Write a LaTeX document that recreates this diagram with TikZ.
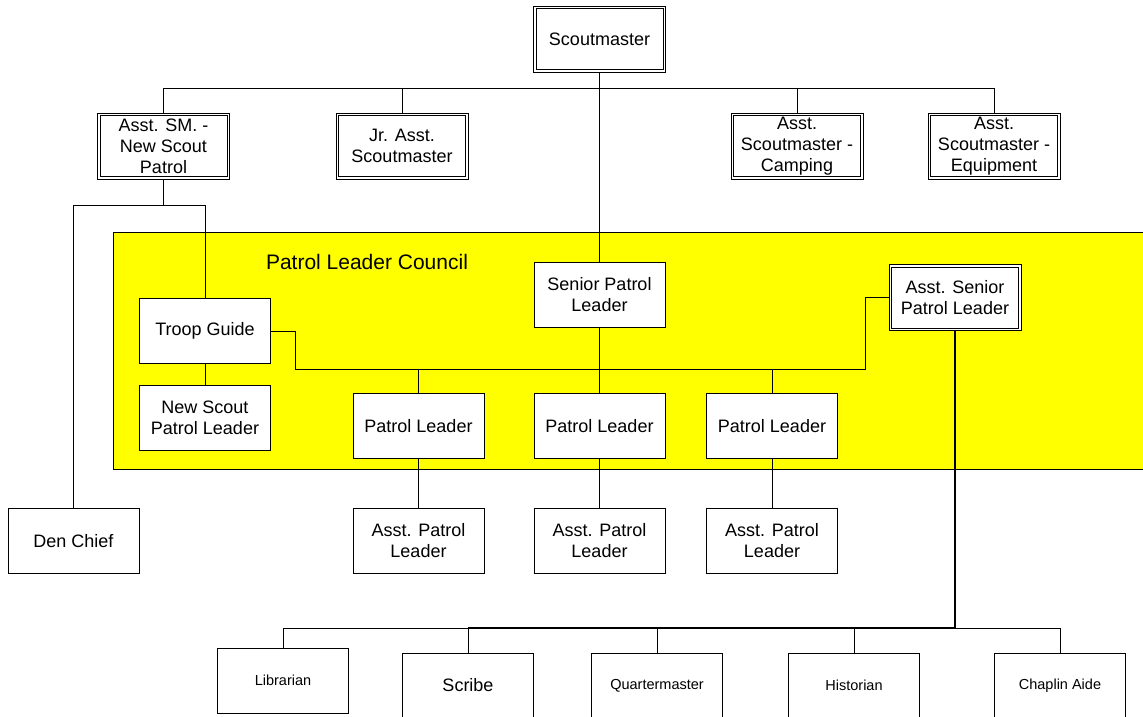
\documentclass[tikz,border=0pt]{standalone}
\usepackage{fontspec}
\setmainfont{Liberation Sans}
\definecolor{plcyellow}{RGB}{255,255,0}
\begin{document}
\begin{tikzpicture}[x=1pt,y=-1pt,
  box/.style={draw, fill=white, line width=0.9pt, minimum width=131pt, minimum height=65pt,
    inner sep=0pt, align=center, font=\fontsize{18}{21}\selectfont},
  dbox/.style={box, minimum width=132pt, minimum height=66pt},
  inner/.style={line width=0.9pt},
  small/.style={font=\fontsize{14.5}{17}\selectfont},
  conn/.style={line width=0.9pt},
  bconn/.style={line width=1.8pt},
  title/.style={font=\fontsize{21}{24}\selectfont, inner sep=0pt}]
\useasboundingbox (0,0) rectangle (1143,717);
\clip (0,0) rectangle (1143,717);
% council background
\draw[fill=plcyellow, line width=0.9pt] (113,232) rectangle (1160,469);
\node[title] (plct) at (367,262) {Patrol Leader Council};
% nodes
\node[dbox] (sm) at (599.5,39) {Scoutmaster};
\node[dbox] (asm) at (163.5,146) {Asst. SM. -\\New Scout\\Patrol};
\node[dbox] (jr) at (402,146) {Jr. Asst.\\Scoutmaster};
\node[dbox] (camp) at (797,146) {Asst.\\Scoutmaster -\\Camping};
\node[dbox] (eq) at (994,146) {Asst.\\Scoutmaster -\\Equipment};
\node[box] (spl) at (599.5,294.5) {Senior Patrol\\Leader};
\node[dbox] (aspl) at (955,297.5) {Asst. Senior\\Patrol Leader};
\foreach \n in {sm,asm,jr,camp,eq,aspl}
  \draw[inner] ([xshift=3pt,yshift=-3pt]\n.north west) rectangle ([xshift=-3pt,yshift=3pt]\n.south east);
\node[box] (tg) at (205,331) {Troop Guide};
\node[box] (nspl) at (205,418) {New Scout\\Patrol Leader};
\node[box] (pl1) at (418.5,426) {Patrol Leader};
\node[box] (pl2) at (599.5,426) {Patrol Leader};
\node[box] (pl3) at (772,426) {Patrol Leader};
\node[box] (den) at (73.5,541) {Den Chief};
\node[box] (apl1) at (418.5,541) {Asst. Patrol\\Leader};
\node[box] (apl2) at (599.5,541) {Asst. Patrol\\Leader};
\node[box] (apl3) at (772,541) {Asst. Patrol\\Leader};
\node[box, small] (lib) at (283,680.5) {Librarian};
\node[box] (scr) at (468,685.5) {Scribe};
\node[box, small] (qm) at (657,685.5) {Quartermaster};
\node[box, small] (hist) at (854,685.5) {Historian};
\node[box, small] (chap) at (1060,685.5) {Chaplin Aide};
% junction coordinates
\coordinate (tb) at (0,88);
\coordinate (sb) at (0,205);
\coordinate (pb) at (0,369);
\coordinate (bb) at (0,628);
\coordinate (tgj) at (295,0);
\coordinate (aj) at (865,0);
% connectors
\draw[conn] (asm.north) -- (asm.north |- tb) -- (eq.north |- tb) -- (eq.north);
\draw[conn] (jr.north) -- (jr.north |- tb);
\draw[conn] (camp.north) -- (camp.north |- tb);
\draw[conn] (sm.south) -- (spl.north);
\draw[conn] (asm.south) -- (asm.south |- sb);
\draw[conn] (den.north) -- (den.north |- sb) -- (tg.north |- sb) -- (tg.north);
\draw[conn] (tg.south) -- (nspl.north);
\draw[conn] (tg.east) -- (tg.east -| tgj) -- (tgj |- pb) -- (aj |- pb) -- (aj |- aspl.west) -- (aspl.west);
\draw[bconn] (spl.south) -- (pl2.north);
\draw[conn] (pl1.north) -- (pl1.north |- pb);
\draw[conn] (pl3.north) -- (pl3.north |- pb);
\draw[conn] (pl1.south) -- (apl1.north);
\draw[conn] (pl2.south) -- (apl2.north);
\draw[conn] (pl3.south) -- (apl3.north);
\draw[bconn] (aspl.south) -- (aspl.south |- bb) -- (scr.north |- bb);
\draw[conn] (lib.north) -- (lib.north |- bb) -- (scr.north |- bb) -- (scr.north);
\draw[conn] (qm.north) -- (qm.north |- bb);
\draw[conn] (hist.north) -- (hist.north |- bb);
\draw[conn] (aspl.south |- bb) -- (chap.north |- bb) -- (chap.north);
\end{tikzpicture}
\end{document}
